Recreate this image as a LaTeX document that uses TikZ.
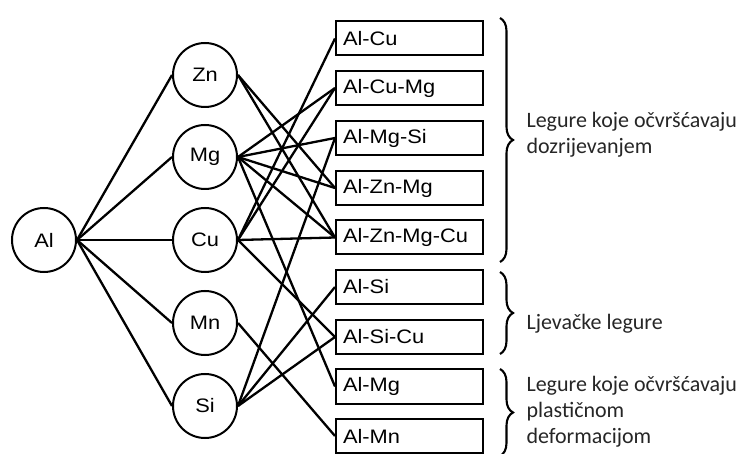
\documentclass[tikz,border=0pt]{standalone}
\usepackage{fontspec}
\setmainfont{Carlito}
\newfontfamily\elemfont[FakeStretch=1.12]{Liberation Sans}
\usetikzlibrary{decorations.pathreplacing}

\begin{document}
\begin{tikzpicture}[x=1pt,y=-1pt,
  elem/.style={draw,circle,line width=2pt,minimum size=64pt,inner sep=0pt,
    font=\elemfont\fontsize{19.5}{21}\selectfont},
  alloy/.style={draw,rectangle,line width=2pt,anchor=west,minimum height=34pt,
    inner xsep=7pt,text width=133pt,align=left,font=\elemfont\fontsize{19.5}{21}\selectfont},
  link/.style={line width=2.3pt},
  grp/.style={decorate,decoration={brace,amplitude=13pt},line width=2.1pt},
  note/.style={anchor=west,align=left,text=black!85,font=\fontsize{22}{26}\selectfont}]
\useasboundingbox (0,0) rectangle (750,454);
% -- define nodes
\node[elem] (al) at (44,240) {Al};
\node[elem] (zn) at (205,75) {Zn};
\node[elem] (mg) at (205,157) {Mg};
\node[elem] (cu) at (205,240) {Cu};
\node[elem] (mn) at (205,323) {Mn};
\node[elem] (si) at (205,406) {Si};
\node[alloy] (alcu) at (335,38.5) {Al-Cu};
\node[alloy] (alcumg) at (335,88) {Al-Cu-Mg};
\node[alloy] (almgsi) at (335,138) {Al-Mg-Si};
\node[alloy] (alznmg) at (335,188) {Al-Zn-Mg};
\node[alloy] (alznmgcu) at (335,237.5) {Al-Zn-Mg-Cu};
\node[alloy] (alsi) at (335,287) {Al-Si};
\node[alloy] (alsicu) at (335,337) {Al-Si-Cu};
\node[alloy] (almg) at (335,386.5) {Al-Mg};
\node[alloy] (almn) at (335,436) {Al-Mn};
% -- draw lines from Al
\draw[link] (al.east) -- (zn.west);
\draw[link] (al.east) -- (mg.west);
\draw[link] (al.east) -- (cu.west);
\draw[link] (al.east) -- (mn.west);
\draw[link] (al.east) -- (si.west);
% -- draw lines to alloys
\draw[link] (zn.east) -- (alznmg.west);
\draw[link] (zn.east) -- (alznmgcu.west);
\draw[link] (mg.east) -- (alcumg.west);
\draw[link] (mg.east) -- (almgsi.west);
\draw[link] (mg.east) -- (alznmg.west);
\draw[link] (mg.east) -- (alznmgcu.west);
\draw[link] (mg.east) -- (almg.west);
\draw[link] (cu.east) -- (alcu.west);
\draw[link] (cu.east) -- (alcumg.west);
\draw[link] (cu.east) -- (alznmgcu.west);
\draw[link] (cu.east) -- (alsicu.west);
\draw[link] (mn.east) -- (almn.west);
\draw[link] (si.east) -- (almgsi.west);
\draw[link] (si.east) -- (alsi.west);
\draw[link] (si.east) -- (alsicu.west);
% -- draw braces
\coordinate (b1t) at (500,18);
\coordinate (b1b) at (500,262);
\coordinate (b2t) at (500,272);
\coordinate (b2b) at (500,354);
\coordinate (b3t) at (500,369);
\coordinate (b3b) at (500,456);
\draw[grp] (b1t) -- (b1b);
\draw[grp] (b2t) -- (b2b);
\draw[grp] (b3t) -- (b3b);
\node[note] (n1) at (523,135) {Legure koje očvršćavaju\\dozrijevanjem};
\node[note] (n2) at (523,324) {Ljevačke legure};
\node[note] (n3) at (523,412) {Legure koje očvršćavaju\\plastičnom\\deformacijom};
\end{tikzpicture}
\end{document}
